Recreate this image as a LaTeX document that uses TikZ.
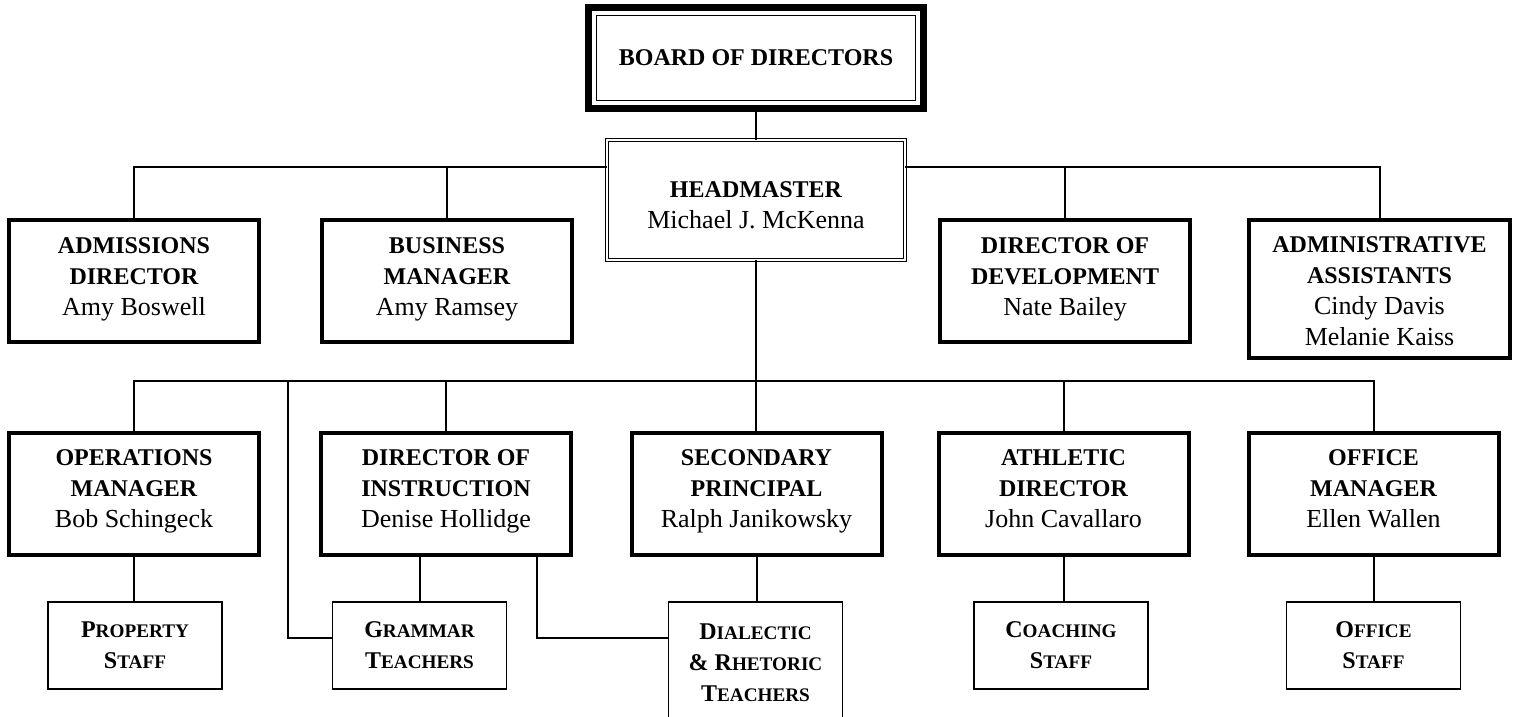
\documentclass[tikz,border=0pt]{standalone}
\usepackage{fontspec}
\setmainfont{Liberation Serif}
\usetikzlibrary{fit}

% name line and fake small caps for the staff boxes
\newcommand{\nm}[1]{{\fontsize{13}{15.5}\selectfont\mdseries #1\strut}}
\newcommand{\smcap}[2]{#1{\fontsize{9.6}{15}\selectfont #2}}

\tikzset{
  boardbox/.style={draw, line width=0.6pt, minimum width=159.5pt, minimum height=42.5pt, inner sep=0pt},
  boardrim/.style={draw, line width=3.5pt, inner sep=3.8pt},
  headbox/.style={draw, double, double distance=1.2pt, line width=0.5pt, minimum width=148.8pt, minimum height=59.8pt, inner sep=0pt, align=center},
  rolebox/.style={draw, line width=2pt, minimum width=125pt, minimum height=61pt, inner sep=0pt, align=center},
  teambox/.style={draw, line width=0.7pt, minimum width=87pt, minimum height=43.5pt, inner sep=0pt, align=center},
  link/.style={line width=1pt}
}

\begin{document}
\begin{tikzpicture}[x=0.5pt, y=-0.5pt, font=\fontsize{12}{15.5}\selectfont\bfseries]
        \useasboundingbox (0,0) rectangle (1520,717);
        % top of the chart
        \node[boardbox] (board) at (756,58) {BOARD OF DIRECTORS};
        \node[boardrim, fit=(board)] (rim) {};
        \node[headbox] (head) at (756,200) {\rule{0pt}{18pt}HEADMASTER\\\nm{Michael J. McKenna}};
        % second row
        \node[rolebox] (adm) at (134,281) {ADMISSIONS\\DIRECTOR\\\nm{Amy Boswell}};
        \node[rolebox] (bus) at (447,281) {BUSINESS\\MANAGER\\\nm{Amy Ramsey}};
        \node[rolebox] (dev) at (1065,281) {DIRECTOR OF\\DEVELOPMENT\\\nm{Nate Bailey}};
        \node[rolebox, minimum width=130.5pt, minimum height=69pt] (admin) at (1379.5,289) {\rule{0pt}{15pt}ADMINISTRATIVE\\ASSISTANTS\\\nm{Cindy Davis}\\\nm{Melanie Kaiss}};
        % third row
        \node[rolebox] (ops) at (134,493.5) {OPERATIONS\\MANAGER\\\nm{Bob Schingeck}};
        \node[rolebox] (doi) at (446,493.5) {DIRECTOR OF\\INSTRUCTION\\\nm{Denise Hollidge}};
        \node[rolebox] (sp) at (756.5,493.5) {SECONDARY\\PRINCIPAL\\\nm{Ralph Janikowsky}};
        \node[rolebox] (ath) at (1063.5,493.5) {ATHLETIC\\DIRECTOR\\\nm{John Cavallaro}};
        \node[rolebox] (om) at (1373.5,493.5) {OFFICE\\MANAGER\\\nm{Ellen Wallen}};
        % staff boxes
        \node[teambox] (prop) at (135,645.5) {\smcap{P}{ROPERTY}\\\smcap{S}{TAFF}};
        \node[teambox] (gram) at (419.5,645.5) {\smcap{G}{RAMMAR}\\\smcap{T}{EACHERS}};
        \node[teambox, minimum height=60.5pt] (dial) at (755.5,662.5) {\smcap{D}{IALECTIC}\\\smcap{\&\ R}{HETORIC}\\\smcap{T}{EACHERS}};
        \node[teambox] (coach) at (1061,645.5) {\smcap{C}{OACHING}\\\smcap{S}{TAFF}};
        \node[teambox] (ostaff) at (1373.5,645.5) {\smcap{O}{FFICE}\\\smcap{S}{TAFF}};
        % bars
        \coordinate (topbar) at (756,167);
        \coordinate (midbar) at (756,381);
        \coordinate (teambar) at (0,638);
        \coordinate (gramtap) at (288,381);
        \coordinate (dialtap) at (537,0);
        % connectors
        \draw[link] (rim.south) -- (head.north);
        \draw[link] (adm.north) |- (head.west |- topbar);
        \draw[link] (bus.north) -- (bus.north |- topbar);
        \draw[link] (admin.north) |- (head.east |- topbar);
        \draw[link] (dev.north) -- (dev.north |- topbar);
        \draw[link] (head.south) -- (head.south |- sp.north);
        \draw[link] (ops.north) |- (om.north |- midbar) -- (om.north);
        \draw[link] (doi.north) -- (doi.north |- midbar);
        \draw[link] (ath.north) -- (ath.north |- midbar);
        \draw[link] (gramtap) |- (gram.west |- teambar);
        \draw[link] (dialtap |- doi.south) |- (dial.west |- teambar);
        \draw[link] (prop.north -| ops.south) -- (ops.south);
        \draw[link] (gram.north) -- (gram.north |- doi.south);
        \draw[link] (sp.south) -- (sp.south |- dial.north);
        \draw[link] (coach.north -| ath.south) -- (ath.south);
        \draw[link] (ostaff.north -| om.south) -- (om.south);
\end{tikzpicture}
\end{document}
